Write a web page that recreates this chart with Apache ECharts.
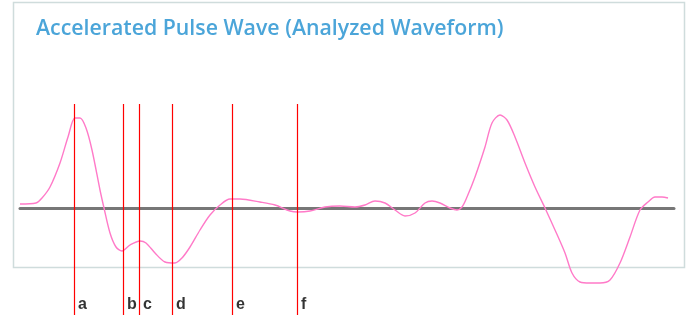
<!DOCTYPE html>
<html>
<head>
<meta charset="utf-8">
<script src="https://cdn.jsdelivr.net/npm/echarts@6/dist/echarts.min.js"></script>
<style>
  html, body { margin: 0; padding: 0; background: #fff; }
  #chart { width: 691px; height: 315px; }
</style>
</head>
<body>
<div id="chart"></div>
<script>
// sample position (ms-ish units) and amplitude of the accelerated pulse wave
const waveX = [0, 16, 22, 30, 40, 48, 55, 60, 66, 72, 80, 84, 90, 96, 102, 110, 120, 126, 135, 145,
    155, 162, 170, 180, 190, 200, 210, 220, 240, 255, 270, 278, 290, 305, 320, 335, 345, 355, 365, 375,
    385, 395, 405, 412, 420, 430, 437, 442, 447, 455, 465, 472, 480, 487, 495, 505, 515, 525, 535, 545,
    552, 560, 570, 580, 590, 600, 610, 620, 628, 635, 642, 648];
const waveY = [4, 5, 10, 21, 45, 71, 90, 90, 80, 58, 18, 0, -25, -39, -43, -37, -33, -35, -45, -54,
    -55, -50, -39, -22, -7, 3, 9, 9, 6, 3, -3, -4, -3, 1, 2, 1, 3, 7, 5, -2,
    -8, -5, 5, 7, 5, 0, -2, 1, 11, 31, 61, 85, 93, 88, 71, 45, 21, 0, -22, -45,
    -65, -74, -75, -75, -72, -55, -29, -2, 6, 11, 11, 10];

// analysis markers
const markerNames = ['a', 'b', 'c', 'd', 'e', 'f'];
const markerX = [54, 103, 119, 152, 212, 277];
const markerTop = 104;
const labelY = -97;

const yMin = -107;
const yMax = 208;

const chart = echarts.init(document.getElementById('chart'));

const waveData = waveX.map((x, i) => [x, waveY[i]]);

const option = {
    animation: false,
    title: {
        text: 'Accelerated Pulse Wave (Analyzed Waveform)',
        left: 31,
        top: 13,
        textStyle: {
            color: '#4ba5d9',
            fontFamily: 'Open Sans',
            fontWeight: 600,
            fontSize: 21.3
        }
    },
    graphic: [{
        type: 'rect',
        shape: { x: 13.5, y: 2.5, width: 671, height: 265 },
        style: { fill: 'transparent', stroke: '#cfdcdc', lineWidth: 1.5 },
        silent: true
    }],
    grid: { left: 20, right: 17, top: 0, bottom: 0 },
    xAxis: {
        type: 'value',
        min: 0,
        max: 654,
        axisLine: { show: true, onZero: true, lineStyle: { color: '#777', width: 3 } },
        axisTick: { show: false },
        axisLabel: { show: false },
        splitLine: { show: false }
    },
    yAxis: {
        type: 'value',
        min: yMin,
        max: yMax,
        axisLine: { show: false },
        axisTick: { show: false },
        axisLabel: { show: false },
        splitLine: { show: false }
    },
    series: [
        {
            type: 'line',
            data: waveData,
            smooth: 0.3,
            showSymbol: false,
            lineStyle: { color: '#ff7ac8', width: 1.4 },
            z: 3
        },
        {
            type: 'scatter',
            symbolSize: 0,
            data: markerX.map((x, i) => ({ name: markerNames[i], value: [x, labelY] })),
            label: {
                show: true,
                position: 'right',
                distance: 4,
                formatter: '{b}',
                color: '#000',
                fontFamily: 'Liberation Sans',
                fontWeight: 'bold',
                fontSize: 16
            },
            markLine: {
                silent: true,
                symbol: 'none',
                label: { show: false },
                lineStyle: { color: '#ff0000', width: 1.2, type: 'solid' },
                data: markerX.map(x => [{ coord: [x, markerTop] }, { coord: [x, yMin] }])
            },
            z: 2
        }
    ]
};

chart.setOption(option);
</script>
</body>
</html>
